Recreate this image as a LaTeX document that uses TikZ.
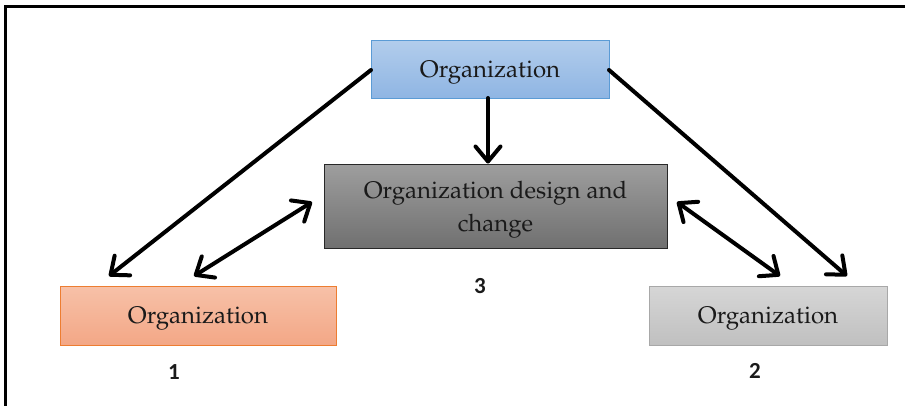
\documentclass[tikz,border=0pt]{standalone}
\usepackage{fontspec}
\usepackage[T1,TU]{fontenc}
\newfontfamily\numfont{Carlito}
\newcommand\palfont{\fontencoding{T1}\fontfamily{ppl}\selectfont}
\usetikzlibrary{arrows.meta}
\definecolor{txt}{HTML}{1A1A1A}
\tikzset{
  box/.style={draw, line width=1pt, rectangle, inner sep=0pt, text=txt,
    font=\palfont\fontsize{24}{33}\selectfont, align=center,
    text height=16pt, text depth=0pt},
  topbox/.style={box, draw={rgb,255:red,91;green,155;blue,213},
    top color={rgb,255:red,178;green,205;blue,236}, bottom color={rgb,255:red,143;green,181;blue,227},
    minimum width=238pt, minimum height=58pt},
  midbox/.style={box, draw={rgb,255:red,40;green,40;blue,40},
    top color={rgb,255:red,158;green,158;blue,158}, bottom color={rgb,255:red,112;green,112;blue,112},
    minimum width=343pt, minimum height=84pt, text height=50pt, text depth=0pt},
  leftbox/.style={box, draw={rgb,255:red,237;green,125;blue,49},
    top color={rgb,255:red,247;green,193;blue,168}, bottom color={rgb,255:red,243;green,167;blue,134},
    minimum width=276pt, minimum height=59pt},
  rightbox/.style={box, draw={rgb,255:red,168;green,168;blue,168},
    top color={rgb,255:red,214;green,214;blue,214}, bottom color={rgb,255:red,192;green,192;blue,192},
    minimum width=238pt, minimum height=59pt},
  numlabel/.style={text=txt, font=\numfont\bfseries\fontsize{23}{23}\selectfont, inner sep=0pt},
  conn/.style={line width=4pt, line cap=round, line join=round,
    arrows={-Straight Barb[length=15pt,width=25pt,line cap=round,line join=round]}},
  dconn/.style={conn, arrows={Straight Barb[length=15pt,width=25pt,line cap=round,line join=round]-Straight Barb[length=15pt,width=25pt,line cap=round,line join=round]}}
}
\begin{document}
\begin{tikzpicture}[x=1pt,y=-1pt]
\useasboundingbox (0,0) rectangle (905,405);
\draw[line width=3pt] (5,406) -- (5,6) -- (906,6);
\node[topbox] (top) at (490,69) {Organization};
\node[midbox] (mid) at (495.5,206) {Organization design and\\change};
\node[leftbox] (left) at (198,315.5) {Organization};
\node[rightbox] (right) at (768,315.5) {Organization};
\node[numlabel] (n3) at (480,286) {3};
\node[numlabel] (n1) at (174,372) {1};
\node[numlabel] (n2) at (755,371) {2};
\coordinate (a1s) at (371,70);
\coordinate (a1e) at (109,276);
\coordinate (a2s) at (609,70);
\coordinate (a2e) at (847,276);
\coordinate (dn) at (488,98);
\coordinate (l1) at (194,276);
\coordinate (l2) at (312,202);
\coordinate (r1) at (677,202);
\coordinate (r2) at (780,276);
\draw[conn] (a1s) -- (a1e);
\draw[conn] (a2s) -- (a2e);
\draw[conn] (dn) -- (dn |- mid.north);
\draw[dconn] (l1) -- (l2);
\draw[dconn] (r1) -- (r2);
\end{tikzpicture}
\end{document}
